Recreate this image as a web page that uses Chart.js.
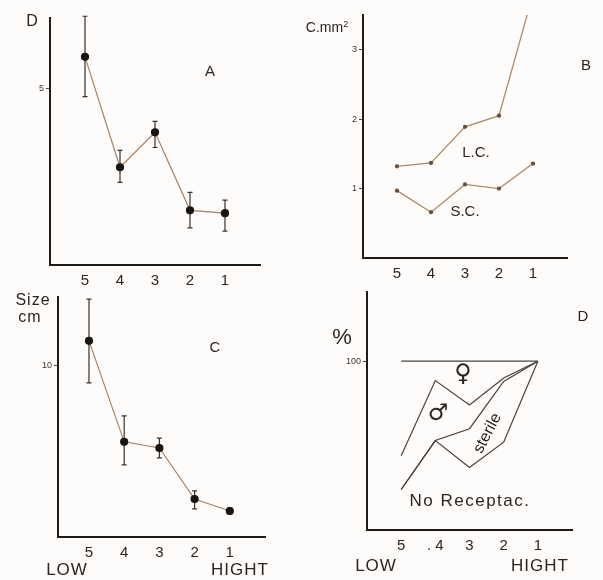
<!DOCTYPE html>
<html>
<head>
<meta charset="utf-8">
<script src="https://cdn.jsdelivr.net/npm/chart.js@4.4.1/dist/chart.umd.min.js"></script>
<style>
  body { margin: 0; background: #fff; }
  #wrap { position: relative; width: 603px; height: 580px; background: #fdfcfa; overflow: hidden;
          font-family: "Liberation Sans", Arial, sans-serif; color: #2a2520; }
  canvas { position: absolute; }
  .t { position: absolute; transform: translate(-50%, -50%); white-space: nowrap; line-height: 1; }
  .sym { font-family: "DejaVu Sans", sans-serif; }
</style>
</head>
<body>
<div id="wrap">
  <canvas id="cA" width="300" height="290" style="left:0;top:0"></canvas>
  <canvas id="cB" width="303" height="290" style="left:300px;top:0"></canvas>
  <canvas id="cC" width="300" height="290" style="left:0;top:290px"></canvas>
  <canvas id="cD" width="303" height="296" style="left:300px;top:284px"></canvas>

  <div class="t" style="left:32px;top:21px;font-size:16px">D</div>
  <div class="t" style="left:210px;top:70px;font-size:15px">A</div>

  <div class="t" style="left:327px;top:27px;font-size:14px">C.mm<sup style="font-size:9px">2</sup></div>
  <div class="t" style="left:586px;top:64px;font-size:15px">B</div>
  <div class="t" style="left:476px;top:151px;font-size:15px">L.C.</div>
  <div class="t" style="left:465px;top:210px;font-size:15px">S.C.</div>

  <div class="t" style="left:33px;top:300px;font-size:16px;letter-spacing:1px">Size</div>
  <div class="t" style="left:30px;top:317px;font-size:16px;letter-spacing:1px">cm</div>
  <div class="t" style="left:215px;top:346px;font-size:15px">C</div>
  <div class="t" style="left:67px;top:569px;font-size:17px;letter-spacing:1px">LOW</div>
  <div class="t" style="left:240px;top:569px;font-size:17px;letter-spacing:1px">HIGHT</div>

  <div class="t" style="left:342px;top:337px;font-size:22px">%</div>
  <div class="t" style="left:583px;top:315px;font-size:15px">D</div>
  <div class="t sym" style="left:463px;top:373px;font-size:24px">♀</div>
  <div class="t sym" style="left:438px;top:412px;font-size:23px">♂</div>
  <div class="t" style="left:487px;top:433px;font-size:16px;transform:translate(-50%,-50%) rotate(-62deg)">sterile</div>
  <div class="t" style="left:470px;top:500px;font-size:17px;letter-spacing:1.5px">No Receptac.</div>
  <div class="t" style="left:376px;top:565px;font-size:17px;letter-spacing:1px">LOW</div>
  <div class="t" style="left:540px;top:565px;font-size:17px;letter-spacing:1px">HIGHT</div>
</div>

<script>
// x positions: 5 = LOW ... 1 = HIGHT
const xPos = [5, 4, 3, 2, 1];
const xLabels = ['5', '4', '3', '2', '1'];
const xLabelsD = ['5', '. 4', '3', '2', '1'];

// A: D
const aMean = [5.9, 2.77, 3.76, 1.55, 1.47];
const aHigh = [7.05, 3.25, 4.07, 2.06, 1.84];
const aLow = [4.77, 2.34, 3.33, 1.05, 0.96];
const aTicks = [5];

// B: C.mm2
const bLC = [1.32, 1.37, 1.89, 2.05, 3.8];
const bSC = [0.97, 0.66, 1.06, 1.0, 1.36];
const bTicks = [1, 2, 3];

// C: Size cm
const cMean = [11.46, 5.56, 5.2, 2.22, 1.52];
const cHigh = [13.9, 7.08, 5.78, 2.69, 1.7];
const cLow = [9.0, 4.21, 4.62, 1.64, 1.35];
const cTicks = [10];

// D: cumulative %
const dTop = [100, 100, 100, 100, 100];
const dFemale = [44, 88.5, 74, 90, 100];
const dMale = [24, 53, 60, 88, 100];
const dSterile = [24, 53, 37, 52, 100];
const dTicks = [100];

const ink = '#1f1b17';

function pts(vals) {
  return vals.map((v, i) => ({ x: xPos[i], y: v }));
}

const errorBars = {
  id: 'errorBars',
  beforeDatasetsDraw(chart, args, opts) {
    if (!opts.low) return;
    const ctx = chart.ctx, xs = chart.scales.x, ys = chart.scales.y;
    ctx.save();
    ctx.strokeStyle = '#3a3029';
    ctx.lineWidth = 1.2;
    xPos.forEach((p, i) => {
      const x = xs.getPixelForValue(p);
      const y1 = ys.getPixelForValue(opts.high[i]);
      const y2 = ys.getPixelForValue(opts.low[i]);
      ctx.beginPath();
      ctx.moveTo(x, y1); ctx.lineTo(x, y2);
      ctx.moveTo(x - 2.5, y1); ctx.lineTo(x + 2.5, y1);
      ctx.moveTo(x - 2.5, y2); ctx.lineTo(x + 2.5, y2);
      ctx.stroke();
    });
    ctx.restore();
  }
};

function makeChart(id, cfg) {
  return new Chart(document.getElementById(id), {
    type: 'line',
    data: { datasets: cfg.datasets },
    options: {
      responsive: false,
      animation: false,
      layout: { padding: cfg.padding },
      plugins: {
        legend: { display: false },
        tooltip: { enabled: false },
        errorBars: cfg.err || {}
      },
      scales: {
        x: {
          type: 'linear',
          reverse: true,
          min: 0,
          max: cfg.xMax,
          afterBuildTicks: s => { s.ticks = xPos.map(v => ({ value: v })); },
          afterFit: s => { s.height = cfg.xHeight; },
          grid: { display: false, drawTicks: false },
          border: { display: true, color: ink, width: 2 },
          ticks: {
            padding: 7,
            color: '#2a2520',
            font: { family: 'Liberation Sans', size: 15 },
            maxRotation: 0,
            autoSkip: false,
            callback: v => cfg.xLabels[xPos.indexOf(v)]
          }
        },
        y: {
          min: 0,
          max: cfg.yMax,
          afterBuildTicks: s => { s.ticks = cfg.yTicks.map(v => ({ value: v })); },
          afterFit: s => { s.width = cfg.yWidth; },
          grid: { display: true, drawOnChartArea: false, drawTicks: true, tickLength: 4, color: '#444' },
          border: { display: true, color: ink, width: 2 },
          ticks: {
            padding: 2,
            color: '#3a3430',
            font: { family: 'Liberation Sans', size: 9 }
          }
        }
      }
    },
    plugins: [errorBars]
  });
}

const meanStyle = {
  borderColor: '#a88260', borderWidth: 1.2, pointRadius: 3.5,
  pointBackgroundColor: '#1a1512', pointBorderColor: '#1a1512', tension: 0
};
const thinStyle = {
  borderColor: '#ae8a68', borderWidth: 1.3, pointRadius: 1.5,
  pointBackgroundColor: '#6b4e36', pointBorderColor: '#6b4e36', tension: 0
};
const dStyle = {
  borderColor: '#4a4038', borderWidth: 1.2, pointRadius: 0, tension: 0
};

makeChart('cA', {
  datasets: [Object.assign({ data: pts(aMean) }, meanStyle)],
  err: { low: aLow, high: aHigh },
  padding: { left: 0, top: 18, right: 40, bottom: 0 },
  xHeight: 25, yWidth: 50, xMax: 6, yMax: 7, yTicks: aTicks, xLabels: xLabels
});

makeChart('cB', {
  datasets: [
    Object.assign({ data: pts(bLC) }, thinStyle),
    Object.assign({ data: pts(bSC) }, thinStyle)
  ],
  padding: { left: 0, top: 15, right: 36, bottom: 0 },
  xHeight: 32, yWidth: 63, xMax: 6, yMax: 3.5, yTicks: bTicks, xLabels: xLabels
});

makeChart('cC', {
  datasets: [Object.assign({ data: pts(cMean) }, meanStyle)],
  err: { low: cLow, high: cHigh },
  padding: { left: 0, top: 7, right: 35, bottom: 0 },
  xHeight: 43, yWidth: 58, xMax: 5.88, yMax: 14, yTicks: cTicks, xLabels: xLabels
});

makeChart('cD', {
  datasets: [
    Object.assign({ data: pts(dTop) }, dStyle),
    Object.assign({ data: pts(dFemale) }, dStyle),
    Object.assign({ data: pts(dMale) }, dStyle),
    Object.assign({ data: pts(dSterile) }, dStyle)
  ],
  padding: { left: 0, top: 8, right: 31, bottom: 0 },
  xHeight: 50, yWidth: 67, xMax: 6, yMax: 141, yTicks: dTicks, xLabels: xLabelsD
});
</script>
</body>
</html>
